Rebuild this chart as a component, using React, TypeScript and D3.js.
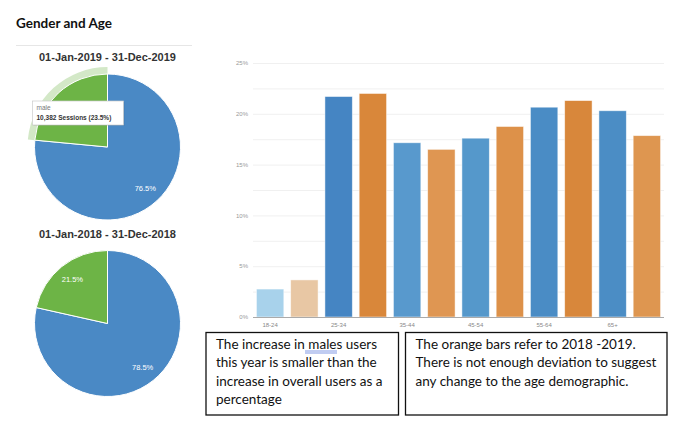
import * as d3 from 'd3';
import { useEffect, useRef } from 'react';

// age groups, each shown as a pair: 2019 (blue) then 2018-2019 (orange)
const ageGroups = ['18-24', '25-34', '35-44', '45-54', '55-64', '65+'];
const blueValues = [2.75, 21.7, 17.15, 17.6, 20.65, 20.3];
const orangeValues = [3.65, 22.0, 16.5, 18.75, 21.3, 17.85];
const blueColors = ['#a8d2eb', '#4585c3', '#5899cd', '#5598cb', '#4a8cc5', '#4b8dc5'];
const orangeColors = ['#e8c7a4', '#d9873a', '#df9652', '#dd9149', '#d8873b', '#de9650'];
const yTicks = [0, 5, 10, 15, 20, 25];

const pie2019 = [
  { label: 'female', value: 76.5 },
  { label: 'male', value: 23.5 },
];
const pie2018 = [
  { label: 'female', value: 78.5 },
  { label: 'male', value: 21.5 },
];
const pieColors = ['#4a89c5', '#6db446'];

const note1 = ['The increase in males users', 'this year is smaller than the', 'increase in overall users as a', 'percentage'];
const note2 = ['The orange bars refer to 2018 -2019.', 'There is not enough deviation to suggest', 'any change to the age demographic.'];

const App = () => {
  const svgRef = useRef<SVGSVGElement | null>(null);

  useEffect(() => {
    if (!svgRef.current) return;
    const width = 698;
    const height = 441;
    const svg = d3.select(svgRef.current)
      .html('')
      .attr('width', width)
      .attr('height', height);

    svg.append('rect').attr('width', width).attr('height', height).attr('fill', '#fff');

    // Title
    svg.append('text')
      .attr('x', 16)
      .attr('y', 28)
      .style('font-family', 'Lato, sans-serif')
      .style('font-weight', 'bold')
      .style('font-size', '13.5px')
      .attr('fill', '#111')
      .text('Gender and Age');

    svg.append('line')
      .attr('x1', 16).attr('x2', 192)
      .attr('y1', 45.5).attr('y2', 45.5)
      .attr('stroke', '#e6e6e6');

    // ---- pies
    const r = 73;
    const pie = d3.pie<{ label: string; value: number }>()
      .sort(null)
      .value(d => d.value);
    const arc = d3.arc<d3.PieArcDatum<{ label: string; value: number }>>()
      .innerRadius(0)
      .outerRadius(r);

    const drawPie = (data: { label: string; value: number }[], cx: number, cy: number, title: string, hover: boolean) => {
      svg.append('text')
        .attr('x', cx)
        .attr('y', cy - 86)
        .attr('text-anchor', 'middle')
        .style('font-family', 'Liberation Sans, Arial, sans-serif')
        .style('font-weight', 'bold')
        .style('font-size', '11px')
        .attr('fill', '#333')
        .text(title);

      const g = svg.append('g').attr('transform', `translate(${cx},${cy})`);
      const arcs = pie(data);

      if (hover) {
        const halo = d3.arc<d3.PieArcDatum<{ label: string; value: number }>>()
          .innerRadius(r)
          .outerRadius(r + 7);
        g.append('path')
          .attr('d', halo(arcs[1]))
          .attr('fill', '#6db446')
          .attr('fill-opacity', 0.3);
      }

      g.selectAll('path.slice')
        .data(arcs)
        .enter().append('path')
        .attr('class', 'slice')
        .attr('d', arc)
        .attr('fill', (d, i) => pieColors[i])
        .attr('stroke', '#fff')
        .attr('stroke-width', 1);

      const labelArc = d3.arc<d3.PieArcDatum<{ label: string; value: number }>>()
        .innerRadius(r * 0.77)
        .outerRadius(r * 0.77);
      g.selectAll('text.lbl')
        .data(arcs.filter((d, i) => !(hover && i === 1)))
        .enter().append('text')
        .attr('class', 'lbl')
        .attr('transform', d => {
          const a = (d.startAngle + d.endAngle) / 2;
          return `translate(${Math.sin(a) * r * 0.77},${-Math.cos(a) * r * 0.77})`;
        })
        .attr('text-anchor', 'middle')
        .attr('dy', '0.35em')
        .style('font-family', 'Liberation Sans, Arial, sans-serif')
        .style('font-size', '7.5px')
        .attr('fill', '#fff')
        .text(d => `${d.data.value}%`);
      void labelArc;

      if (hover) {
        const tip = g.append('g').attr('transform', 'translate(-75,-46)');
        tip.append('rect')
          .attr('x', 1).attr('y', 1)
          .attr('width', 91).attr('height', 24)
          .attr('fill', '#000').attr('fill-opacity', 0.08);
        tip.append('rect')
          .attr('width', 91).attr('height', 24)
          .attr('fill', '#fff')
          .attr('stroke', '#ccc').attr('stroke-width', 0.7);
        tip.append('text')
          .attr('x', 4).attr('y', 9)
          .style('font-family', 'Liberation Sans, Arial, sans-serif')
          .style('font-size', '6.5px')
          .attr('fill', '#777')
          .text(data[1].label);
        tip.append('text')
          .attr('x', 4).attr('y', 19)
          .style('font-family', 'Liberation Sans, Arial, sans-serif')
          .style('font-size', '6.5px')
          .style('font-weight', 'bold')
          .attr('fill', '#333')
          .text(`10,382 Sessions (${data[1].value}%)`);
      }
    };

    drawPie(pie2019, 107.5, 147, '01-Jan-2019 - 31-Dec-2019', true);
    drawPie(pie2018, 107.5, 323.5, '01-Jan-2018 - 31-Dec-2018', false);

    // ---- bar chart
    const left = 253;
    const right = 664;
    const top = 63;
    const bottom = 317;

    const bars = ageGroups.flatMap((g, i) => [
      { key: `${g}-a`, group: g, value: blueValues[i], color: blueColors[i] },
      { key: `${g}-b`, group: g, value: orangeValues[i], color: orangeColors[i] },
    ]);

    const x = d3.scaleBand()
      .domain(bars.map(b => b.key))
      .range([left, right])
      .paddingInner(0.2)
      .paddingOuter(0.1);
    const y = d3.scaleLinear().domain([0, 25]).range([bottom, top]);

    const gridVals = d3.range(0, 25.01, 2.5);
    svg.append('g')
      .selectAll('line')
      .data(gridVals.filter(v => v > 0))
      .enter().append('line')
      .attr('x1', left).attr('x2', right)
      .attr('y1', d => y(d) + 0.5).attr('y2', d => y(d) + 0.5)
      .attr('stroke', '#f0f0f0');

    svg.append('g')
      .selectAll('text')
      .data(yTicks)
      .enter().append('text')
      .attr('x', 248)
      .attr('y', d => y(d))
      .attr('dy', '0.35em')
      .attr('text-anchor', 'end')
      .style('font-family', 'Liberation Sans, Arial, sans-serif')
      .style('font-size', '6px')
      .attr('fill', '#999')
      .text(d => `${d}%`);

    svg.append('g')
      .selectAll('rect')
      .data(bars)
      .enter().append('rect')
      .attr('x', d => x(d.key)!)
      .attr('y', d => y(d.value))
      .attr('width', x.bandwidth())
      .attr('height', d => bottom - y(d.value))
      .attr('fill', d => d.color)
      .attr('stroke', '#fff')
      .attr('stroke-opacity', 0.6)
      .attr('stroke-width', 0.8);

    svg.append('line')
      .attr('x1', left).attr('x2', right)
      .attr('y1', bottom + 0.5).attr('y2', bottom + 0.5)
      .attr('stroke', '#aaa')
      .attr('stroke-width', 1.2);

    svg.append('g')
      .selectAll('text')
      .data(ageGroups)
      .enter().append('text')
      .attr('x', d => x(`${d}-a`)! + x.bandwidth() / 2)
      .attr('y', 327)
      .attr('text-anchor', 'middle')
      .style('font-family', 'Liberation Sans, Arial, sans-serif')
      .style('font-size', '6px')
      .attr('fill', '#888')
      .text(d => d);

    // ---- note boxes
    const drawNote = (lines: string[], bx: number, bw: number) => {
      svg.append('rect')
        .attr('x', bx).attr('y', 332.5)
        .attr('width', bw).attr('height', 82.5)
        .attr('fill', '#fff')
        .attr('stroke', '#111')
        .attr('stroke-width', 1.3);
      svg.append('g')
        .selectAll('text')
        .data(lines)
        .enter().append('text')
        .attr('x', bx + 10)
        .attr('y', (d, i) => 349 + i * 18.3)
        .style('font-family', 'Lato, sans-serif')
        .style('font-size', '13.5px')
        .attr('fill', '#111')
        .text(d => d);
    };
    drawNote(note1, 206, 192.5);
    drawNote(note2, 405.5, 261.5);

    // spell-check underline under "males"
    const ul = svg.append('g').attr('stroke', '#4a6fd8').attr('stroke-width', 0.7);
    ul.append('line').attr('x1', 305).attr('x2', 337).attr('y1', 351).attr('y2', 351);
    ul.append('line').attr('x1', 305).attr('x2', 337).attr('y1', 353).attr('y2', 353);
  }, []);

  return <svg ref={svgRef} style={{ position: 'absolute', left: 0, top: 0 }} />;
};

export default App;
